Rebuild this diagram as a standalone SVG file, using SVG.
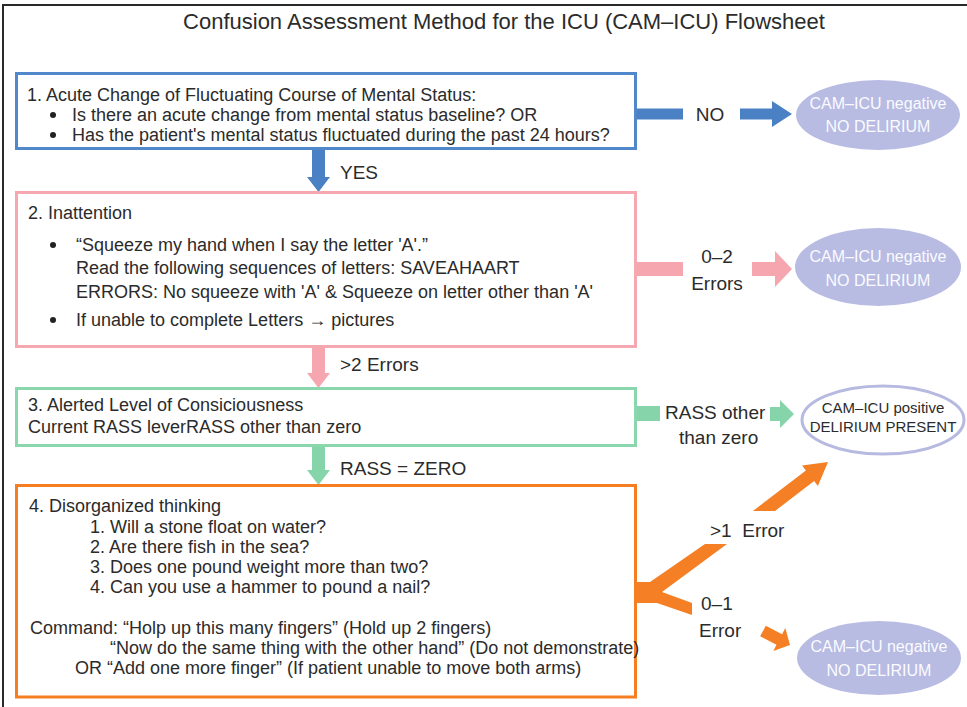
<svg xmlns="http://www.w3.org/2000/svg" width="967" height="707" viewBox="0 0 967 707">
  <style>
    text { font-family: "Liberation Sans", Arial, sans-serif; fill: #2b2b2b; }
    .t { font-size: 18px; }
    .lbl { font-size: 19px; }
    .box { fill: #ffffff; stroke-width: 3; }
    .oval { fill: #b8bce3; }
    .ovtxt { font-size: 16px; fill: #fbfbff; text-anchor: middle; }
    .dot { fill: #222; }
  </style>

  <!-- page frame -->
  <path d="M3,707 V5 H967" fill="none" stroke="#2a2a2a" stroke-width="2"/>
  <text x="504" y="29" font-size="22" text-anchor="middle" fill="#333">Confusion Assessment Method for the ICU (CAM–ICU) Flowsheet</text>

  <!-- connectors -->
  <g id="connectors">
    <!-- step 1 -->
    <rect x="636" y="108.5" width="47" height="11" fill="#4a80c4"/>
    <polygon points="740,108.5 772,108.5 772,101 792,114 772,127 772,119.5 740,119.5" fill="#4a80c4"/>
    <polygon points="312,150 325,150 325,177 330,177 318.5,192 307,177 312,177" fill="#4a80c4"/>
    <!-- step 2 -->
    <rect x="636" y="262" width="47" height="14" fill="#f6a6ae"/>
    <polygon points="752,262 775,262 775,251 792,269 775,287 775,276 752,276" fill="#f6a6ae"/>
    <polygon points="312,348 325,348 325,373 330,373 318.5,388 307,373 312,373" fill="#f6a6ae"/>
    <!-- step 3 -->
    <rect x="636" y="406" width="24" height="15" fill="#86d5aa"/>
    <polygon points="770,407 780,407 780,400 794,414 780,428 780,421 770,421" fill="#86d5aa"/>
    <polygon points="312,446 325,446 325,470 330,470 318.5,485 307,470 312,470" fill="#86d5aa"/>
    <!-- step 4 branch -->
    <polygon points="634,582 650,582 705,544 727,544 662,592 692,603 692,615 657,603 634,603" fill="#f57f24"/>
    <polygon points="753,511 805.9,470.4 802.1,465.4 828,462 817.9,486 814.1,481 775,511" fill="#f57f24"/>
    <polygon points="765.8,625.7 782.1,634.2 785.3,628 790,645 773.3,651 776.5,644.8 760.2,636.3" fill="#f57f24"/>
  </g>

  <!-- connector labels -->
  <g id="labels">
    <text class="lbl" x="710" y="121" text-anchor="middle">NO</text>
    <text class="lbl" x="340" y="179">YES</text>
    <text class="lbl" x="717" y="263" text-anchor="middle">0–2</text>
    <text class="lbl" x="717" y="290" text-anchor="middle">Errors</text>
    <text class="lbl" x="340" y="371">&gt;2  Errors</text>
    <text class="lbl" x="665" y="419">RASS other</text>
    <text class="lbl" x="679" y="444">than zero</text>
    <text class="lbl" x="340" y="475">RASS = ZERO</text>
    <text class="lbl" x="710" y="537" xml:space="preserve">&gt;1  Error</text>
    <text class="lbl" x="701" y="610">0–1</text>
    <text class="lbl" x="699" y="637">Error</text>
  </g>

  <!-- 1. acute change -->
  <g id="step1">
    <rect class="box" x="16.5" y="73.5" width="619" height="75" stroke="#5088cb"/>
    <text class="t" x="27" y="101" fill="#3b79c8">1. Acute Change of Fluctuating Course of Mental Status:</text>
    <circle class="dot" cx="53" cy="115" r="3"/>
    <text class="t" x="72" y="121">Is there an acute change from mental status baseline? OR</text>
    <circle class="dot" cx="53" cy="135" r="3"/>
    <text class="t" x="72" y="141">Has the patient's mental status fluctuated during the past 24 hours?</text>
  </g>

  <!-- 2. inattention -->
  <g id="step2">
    <rect class="box" x="16.5" y="192.5" width="619" height="154" stroke="#f6a8b0"/>
    <text class="t" x="28" y="219" fill="#c4535a">2. Inattention</text>
    <circle class="dot" cx="53" cy="245" r="3"/>
    <text class="t" x="76" y="251">“Squeeze my hand when I say the letter 'A'.”</text>
    <text class="t" x="76" y="274">Read the following sequences of letters: SAVEAHAART</text>
    <text class="t" x="76" y="298">ERRORS: No squeeze with 'A' &amp; Squeeze on letter other than 'A'</text>
    <circle class="dot" cx="53" cy="320" r="3"/>
    <text class="t" x="76" y="326">If unable to complete Letters → pictures</text>
  </g>

  <!-- 3. level of consciousness -->
  <g id="step3">
    <rect class="box" x="16.5" y="388.5" width="619" height="57" stroke="#8ad7ae"/>
    <text class="t" x="28" y="411" fill="#7f9c46">3. Alerted Level of Consiciousness</text>
    <text class="t" x="28" y="433">Current RASS leverRASS other than zero</text>
  </g>

  <!-- 4. disorganized thinking -->
  <g id="step4">
    <rect class="box" x="16.5" y="485.5" width="619" height="211.5" stroke="#f57d22"/>
    <text class="t" x="29" y="512" fill="#e8782a">4. Disorganized thinking</text>
    <text class="t" x="90" y="533">1. Will a stone float on water?</text>
    <text class="t" x="90" y="553">2. Are there fish in the sea?</text>
    <text class="t" x="90" y="573">3. Does one pound weight more than two?</text>
    <text class="t" x="90" y="593">4. Can you use a hammer to pound a nail?</text>
    <text class="t" x="30" y="634">Command: “Holp up this many fingers” (Hold up 2 fingers)</text>
    <text class="t" x="110" y="654">“Now do the same thing with the other hand” (Do not demonstrate)</text>
    <text class="t" x="75" y="674">OR “Add one more finger” (If patient unable to move both arms)</text>
  </g>

  <!-- outcomes -->
  <g id="negative1">
    <ellipse class="oval" cx="878" cy="115" rx="82" ry="35"/>
    <text class="ovtxt" x="878" y="109">CAM–ICU negative</text>
    <text class="ovtxt" x="878" y="132">NO DELIRIUM</text>
  </g>
  <g id="negative2">
    <ellipse class="oval" cx="878" cy="267" rx="83" ry="39"/>
    <text class="ovtxt" x="878" y="262">CAM–ICU negative</text>
    <text class="ovtxt" x="878" y="286">NO DELIRIUM</text>
  </g>
  <g id="positive">
    <ellipse cx="883" cy="420" rx="81" ry="34" fill="#ffffff" stroke="#b7bae0" stroke-width="3"/>
    <text x="883" y="413" font-size="15" text-anchor="middle">CAM–ICU positive</text>
    <text x="883" y="432" font-size="15" text-anchor="middle">DELIRIUM PRESENT</text>
  </g>
  <g id="negative3">
    <ellipse class="oval" cx="879" cy="658" rx="82" ry="37"/>
    <text class="ovtxt" x="879" y="652">CAM–ICU negative</text>
    <text class="ovtxt" x="879" y="676">NO DELIRIUM</text>
  </g>
</svg>
